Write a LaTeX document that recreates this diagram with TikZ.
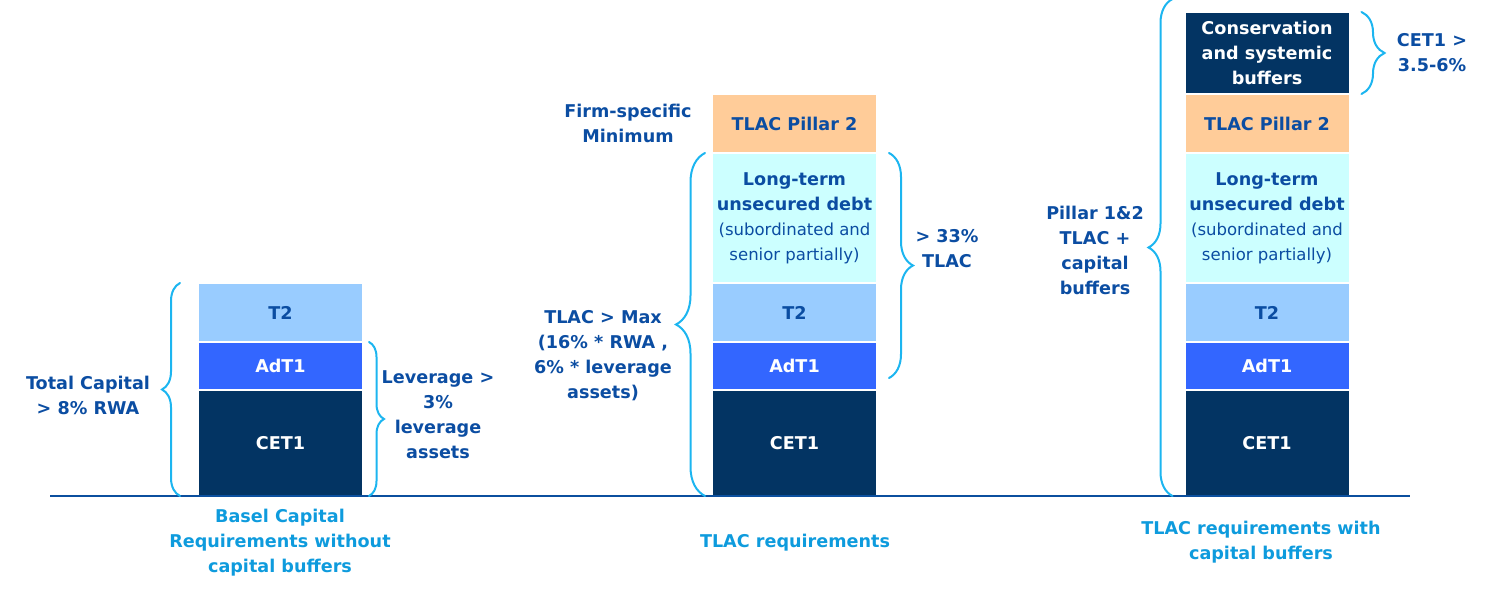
\documentclass[tikz,border=0pt]{standalone}
\usepackage{fontspec}
\setmainfont{DejaVu Sans}
\usetikzlibrary{positioning,calc,decorations.pathreplacing}
\usepackage{xcolor}
\definecolor{capNavy}{HTML}{033463}
\definecolor{capBlue}{HTML}{3366FF}
\definecolor{capSky}{HTML}{99CCFF}
\definecolor{capIce}{HTML}{CCFFFF}
\definecolor{capPeach}{HTML}{FFCC99}
\definecolor{capText}{HTML}{0B4DA2}
\definecolor{capBrace}{HTML}{1CB5F0}
\definecolor{capCaption}{HTML}{0E9BDD}
\definecolor{capAxis}{HTML}{0B4F9E}
\newcommand{\capfont}{\fontsize{13.2}{18.75}\selectfont\bfseries}
\newcommand{\plainpart}[1]{{\mdseries\fontsize{12.4}{17}\selectfont #1}}
\tikzset{capbrace/.style={draw=capBrace,line width=1.5pt,line cap=round,decorate,decoration={brace,amplitude=#1}}}

\begin{document}
\begin{tikzpicture}[x=0.75pt,y=0.75pt,node distance=1.5pt]
\tikzstyle{layer}=[inner sep=0pt,outer sep=0pt,minimum width=122.25pt,align=center,font=\capfont,text=capText]
\tikzstyle{cetbox}=[layer,fill=capNavy,text=white,minimum height=78.75pt]
\tikzstyle{adtbox}=[layer,fill=capBlue,text=white,minimum height=34.5pt]
\tikzstyle{tbox}=[layer,fill=capSky,minimum height=42.75pt]
\tikzstyle{debtbox}=[layer,fill=capIce,minimum height=96pt]
\tikzstyle{pilbox}=[layer,fill=capPeach,minimum height=42.75pt]
\tikzstyle{bufbox}=[layer,fill=capNavy,text=white,minimum height=60pt]
\tikzstyle{note}=[align=center,font=\capfont,text=capText,inner sep=0pt]
\tikzstyle{caption}=[note,text=capCaption]
\useasboundingbox (0,-96) rectangle (1506,496);

% Basel capital bar
\node[cetbox,anchor=south] (cet1a) at (280.5,0) {CET1};
\node[adtbox,above=of cet1a] (adt1a) {AdT1};
\node[tbox,above=of adt1a] (t2a) {T2};

% TLAC bar
\node[cetbox,anchor=south] (cet1b) at (794.5,0) {CET1};
\node[adtbox,above=of cet1b] (adt1b) {AdT1};
\node[tbox,above=of adt1b] (t2b) {T2};
\node[debtbox,above=of t2b] (ltudb) {Long-term\\unsecured debt\\\plainpart{(subordinated and}\\\plainpart{senior partially)}};
\node[pilbox,above=of ltudb] (pilb) {TLAC Pillar 2};

% TLAC bar with buffers
\node[cetbox,anchor=south] (cet1c) at (1267,0) {CET1};
\node[adtbox,above=of cet1c] (adt1c) {AdT1};
\node[tbox,above=of adt1c] (t2c) {T2};
\node[debtbox,above=of t2c] (ltudc) {Long-term\\unsecured debt\\\plainpart{(subordinated and}\\\plainpart{senior partially)}};
\node[pilbox,above=of ltudc] (pilc) {TLAC Pillar 2};
\node[bufbox,above=of pilc] (consc) {Conservation\\and systemic\\buffers};

% axis
\coordinate (axisL) at (50,0);
\coordinate (axisR) at (1410,0);
\draw[draw=capAxis,line width=1.5pt] (axisL) -- (axisR);

% braces
\draw[capbrace=13.5pt] ($(cet1a.south west)+(-19,0)$) -- ($(t2a.north west)+(-19,1)$);
\draw[capbrace=11.25pt] ($(adt1a.north east)+(7,1)$) -- ($(cet1a.south east)+(7,0)$);
\draw[capbrace=21.75pt] ($(cet1b.south west)+(-8,0)$) -- ($(ltudb.north west)+(-8,1)$);
\draw[capbrace=18pt] ($(ltudb.north east)+(13,1)$) -- ($(adt1b.south east)+(13,11)$);
\draw[capbrace=18pt] ($(cet1c.south west)+(-13,0)$) -- ($(consc.north west)+(-13,14)$);
\draw[capbrace=17.25pt] ($(consc.north east)+(13,1)$) -- ($(consc.south east)+(13,-1)$);

% labels
\node[note] (totcap) at (88,101) {Total Capital\\> 8\% RWA};
\node[note] (levnote) at (438,81.5) {Leverage >\\3\%\\leverage\\assets};
\node[note] (firmnote) at (628,373) {Firm-specific\\Minimum};
\node[note] (maxnote) at (603,140.5) {TLAC > Max\\(16\% * RWA ,\\6\% * leverage\\assets)};
\node[note] (tlacnote) at (947,247) {> 33\%\\TLAC};
\node[note] (pilnote) at (1095,245.5) {Pillar 1\&2\\TLAC +\\capital\\buffers};
\node[note] (bufnote) at (1432,443.5) {CET1 >\\3.5-6\%};

% captions
\node[caption] (baselcap) at (280,-47) {Basel Capital\\Requirements without\\capital buffers};
\node[caption] (tlaccap) at (795,-47) {TLAC requirements};
\node[caption] (buffcap) at (1261,-46.5) {TLAC requirements with\\capital buffers};
\end{tikzpicture}
\end{document}
